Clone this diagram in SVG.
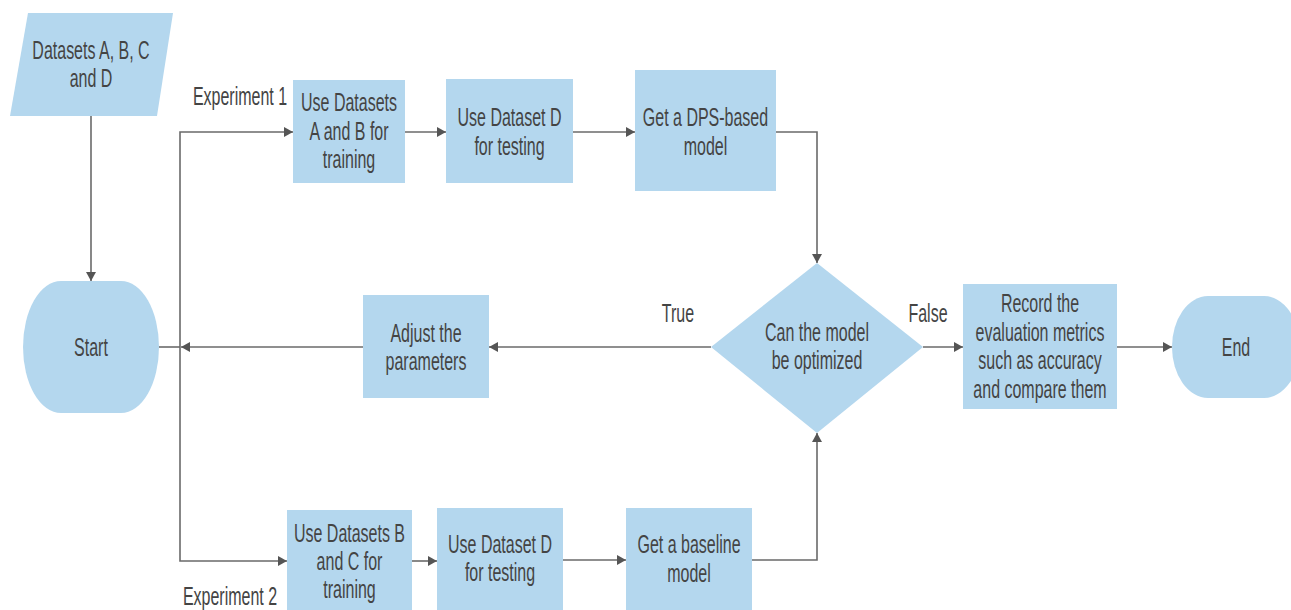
<svg xmlns="http://www.w3.org/2000/svg" width="1291" height="610" viewBox="0 0 1291 610">
<style>
.n{fill:#b4d7ee;stroke:none}
.t{font-family:"Liberation Sans",Arial,sans-serif;font-size:25px;fill:#444444;text-anchor:middle}
.c{fill:none;stroke:#6a6a6a;stroke-width:1.6}
.a{marker-end:url(#arr)}
</style>
<defs>
<marker id="arr" markerUnits="userSpaceOnUse" markerWidth="10" markerHeight="10" refX="9" refY="5" orient="auto">
<path d="M0,0 L9,5 L0,10 z" fill="#555"/>
</marker>
</defs>
<rect width="1291" height="610" fill="#ffffff"/>
<g id="connectors">
<path class="c a" d="M91,116 V281"/>
<path class="c" d="M159,347 H180"/>
<path class="c a" d="M180,347 V132 H293"/>
<path class="c a" d="M180,347 V561 H287"/>
<path class="c a" d="M363,347 H181"/>
<path class="c a" d="M405,132 H446"/>
<path class="c a" d="M573,132 H635"/>
<path class="c a" d="M776,132 H817 V263"/>
<path class="c a" d="M711,347 H489"/>
<path class="c a" d="M923,347 H963"/>
<path class="c a" d="M1117,347 H1172"/>
<path class="c a" d="M412,561 H437"/>
<path class="c a" d="M563,560 H626"/>
<path class="c a" d="M752,560 H817 V433"/>
<text class="t" transform="translate(240,0) scale(0.64,1)" x="0" y="105">Experiment 1</text>
<text class="t" transform="translate(230,0) scale(0.64,1)" x="0" y="605">Experiment 2</text>
<text class="t" transform="translate(678,0) scale(0.64,1)" x="0" y="322">True</text>
<text class="t" transform="translate(928,0) scale(0.64,1)" x="0" y="322">False</text>
</g>
<g id="datasets">
<polygon class="n" points="28,13 173,13 157,116 10,116"/>
<text class="t" transform="translate(91,0) scale(0.64,1)"><tspan x="0" y="59">Datasets A, B, C</tspan><tspan x="0" y="87">and D</tspan></text>
</g>
<g id="start">
<rect class="n" x="23" y="281" width="136" height="132" rx="38" ry="66"/>
<text class="t" transform="translate(91,0) scale(0.64,1)" x="0" y="356">Start</text>
</g>
<g id="exp1-train">
<rect class="n" x="293" y="80" width="112" height="103"/>
<text class="t" transform="translate(349,0) scale(0.64,1)"><tspan x="0" y="111">Use Datasets</tspan><tspan x="0" y="140">A and B for</tspan><tspan x="0" y="168">training</tspan></text>
</g>
<g id="exp1-test">
<rect class="n" x="446" y="79" width="127" height="104"/>
<text class="t" transform="translate(509.5,0) scale(0.64,1)"><tspan x="0" y="126">Use Dataset D</tspan><tspan x="0" y="155">for testing</tspan></text>
</g>
<g id="dps-model">
<rect class="n" x="635" y="70" width="141" height="121"/>
<text class="t" transform="translate(705.5,0) scale(0.64,1)"><tspan x="0" y="126">Get a DPS-based</tspan><tspan x="0" y="155">model</tspan></text>
</g>
<g id="decision">
<polygon class="n" points="817,263 923,347 817,433 711,347"/>
<text class="t" transform="translate(817,0) scale(0.64,1)"><tspan x="0" y="341">Can the model</tspan><tspan x="0" y="369">be optimized</tspan></text>
</g>
<g id="adjust">
<rect class="n" x="363" y="295" width="126" height="103"/>
<text class="t" transform="translate(426,0) scale(0.64,1)"><tspan x="0" y="342">Adjust the</tspan><tspan x="0" y="370">parameters</tspan></text>
</g>
<g id="record">
<rect class="n" x="963" y="284" width="154" height="125"/>
<text class="t" transform="translate(1040,0) scale(0.64,1)"><tspan x="0" y="312">Record the</tspan><tspan x="0" y="341">evaluation metrics</tspan><tspan x="0" y="369">such as accuracy</tspan><tspan x="0" y="398">and compare them</tspan></text>
</g>
<g id="end">
<rect class="n" x="1172" y="296" width="128" height="102" rx="36" ry="51"/>
<text class="t" transform="translate(1236,0) scale(0.64,1)" x="0" y="356">End</text>
</g>
<g id="exp2-train">
<rect class="n" x="287" y="510" width="125" height="100"/>
<text class="t" transform="translate(349.5,0) scale(0.64,1)"><tspan x="0" y="542">Use Datasets B</tspan><tspan x="0" y="570">and C for</tspan><tspan x="0" y="598">training</tspan></text>
</g>
<g id="exp2-test">
<rect class="n" x="437" y="508" width="126" height="102"/>
<text class="t" transform="translate(500,0) scale(0.64,1)"><tspan x="0" y="553">Use Dataset D</tspan><tspan x="0" y="581">for testing</tspan></text>
</g>
<g id="baseline-model">
<rect class="n" x="626" y="508" width="126" height="102"/>
<text class="t" transform="translate(689,0) scale(0.64,1)"><tspan x="0" y="553">Get a baseline</tspan><tspan x="0" y="582">model</tspan></text>
</g>
</svg>
